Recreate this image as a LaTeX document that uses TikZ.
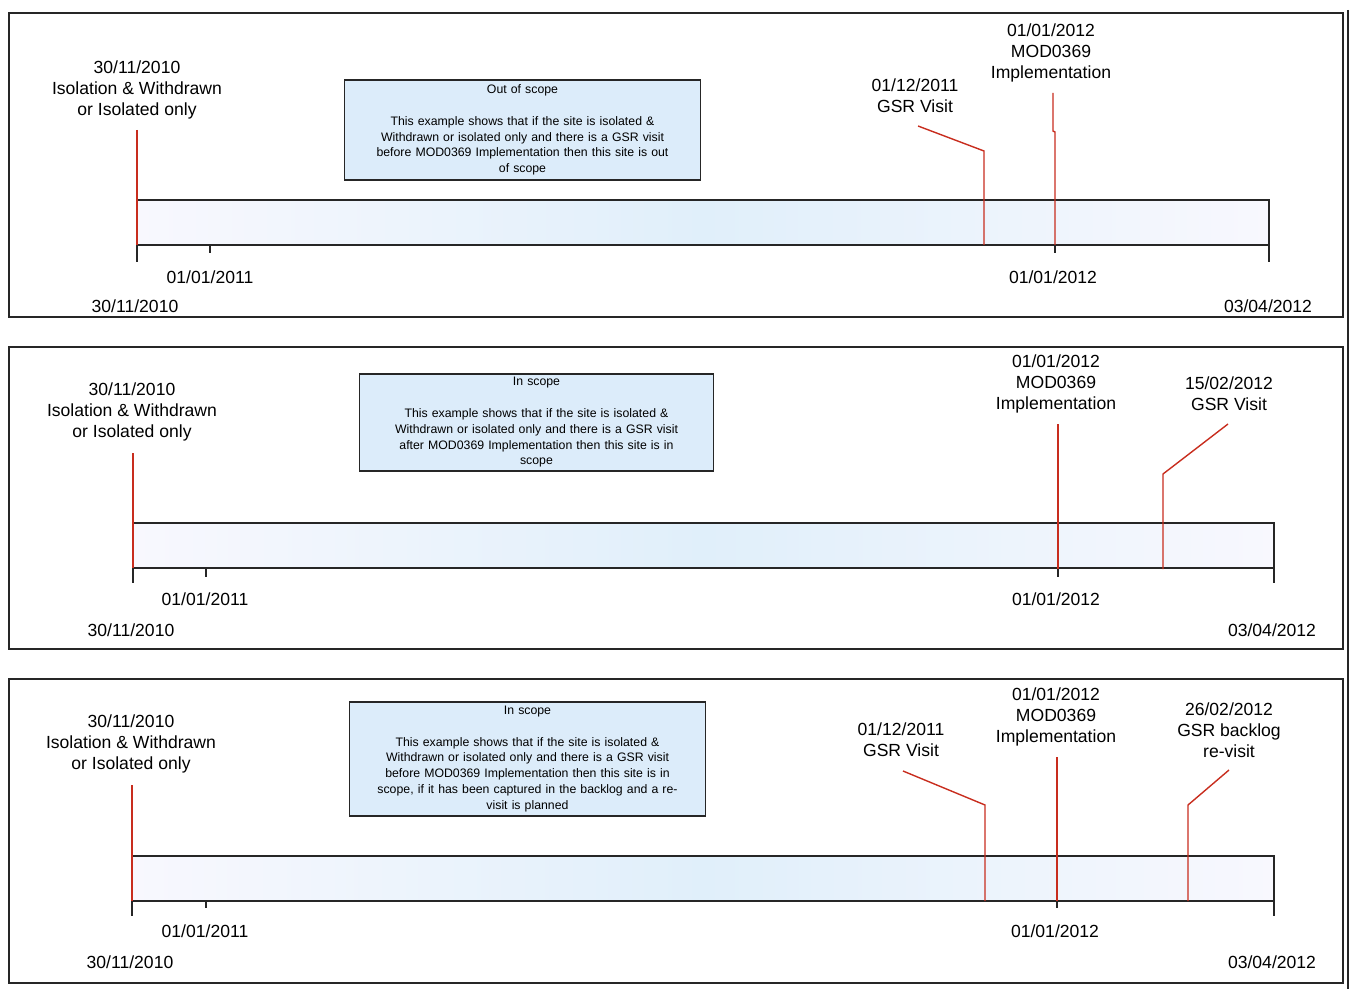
\documentclass[tikz,border=0pt]{standalone}
\usepackage{fontspec}
\setmainfont{Liberation Sans}
\usepackage{tikz}
\usetikzlibrary{positioning,calc}
\definecolor{markred}{RGB}{200,45,30}
\definecolor{notefill}{RGB}{220,236,250}
\definecolor{barmid}{RGB}{224,239,250}
\definecolor{barend}{RGB}{248,248,254}
\tikzset{frame/.style={draw=black!85, line width=1pt},
	barline/.style={draw=black!85, line width=0.8pt},
	barfill/.style={left color=barend, right color=barend, middle color=barmid},
	tick/.style={draw=black!85, line width=0.8pt},
	marker/.style={draw=markred, line width=0.8pt},
	lbl/.style={font=\fontsize{10}{12}\selectfont, align=center, inner sep=0pt},
	note/.style={draw=black!85, line width=0.8pt, fill=notefill, align=center,
		inner sep=2pt, font=\fontsize{7}{9}\selectfont}}
\newcommand{\timeBar}[4]{% name, left x, right x, top y
	\shade[barfill] (#2,#4) rectangle (#3,#4+45);
	\draw[barline] (#2,#4) -- (#3,#4) -- (#3,#4+45) -- (#2,#4+45);
	\coordinate (#1l) at (#2,#4+45);
	\coordinate (#1r) at (#3,#4+45);}

\begin{document}
\begin{tikzpicture}[x=0.02cm, y=-0.02cm]
	\useasboundingbox (0,0) rectangle (1351,989);
	\draw[frame] (1348,10) -- (1348,989);

	% first example: out of scope
	\draw[frame] (9,13) rectangle (1343,317);
	\timeBar{a}{137}{1269}{200}
	\draw[tick] (al) -- ++(0,17); \draw[tick] (210,245) -- (210,253);
	\draw[tick] (1055,245) -- (1055,253); \draw[tick] (ar) -- ++(0,17);
	\node[lbl] (a2011) at (210,277) {01/01/2011};
	\node[lbl] (a2010) at (135,306) {30/11/2010};
	\node[lbl] (a2012) at (1053,277) {01/01/2012};
	\node[lbl] (aend) at (1268,306) {03/04/2012};
	\node[lbl] (aiso) at (137,90) {30/11/2010\\Isolation \& Withdrawn\\or Isolated only};
	\node[lbl] (agsr) at (915,96) {01/12/2011\\GSR Visit};
	\node[lbl] (amod) at (1051,53) {01/01/2012\\MOD0369\\Implementation};
	\coordinate (aisot) at (137,130);
	\coordinate (agsrt) at (918,126); \coordinate (agsrb) at (984,245);
	\coordinate (amodt) at (1053,93); \coordinate (amodb) at (1055,245);
	\draw[marker] (aisot) -- (al);
	\draw[marker] (agsrt) -- (984,151) -- (agsrb);
	\draw[marker] (amodt) -- (1053,131) -- (1055,132) -- (amodb);
	\node[note, text width=6.98cm, minimum height=2cm] (anote) at (522.5,130)
		{Out of scope\\[9pt]This example shows that if the site is isolated \&\\
		Withdrawn or isolated only and there is a GSR visit\\
		before MOD0369 Implementation then this site is out\\of scope};

	% second example: in scope, visit after
	\draw[frame] (9,347) rectangle (1343,649);
	\timeBar{b}{133}{1274}{523}
	\draw[tick] (bl) -- ++(0,15); \draw[tick] (206,569) -- (206,577);
	\draw[tick] (1058,569) -- (1058,577); \draw[tick] (br) -- ++(0,15);
	\node[lbl] (b2011) at (205,599) {01/01/2011};
	\node[lbl] (b2010) at (131,630) {30/11/2010};
	\node[lbl] (b2012) at (1056,599) {01/01/2012};
	\node[lbl] (bend) at (1272,630) {03/04/2012};
	\node[lbl] (biso) at (132,412) {30/11/2010\\Isolation \& Withdrawn\\or Isolated only};
	\node[lbl] (bmod) at (1056,384) {01/01/2012\\MOD0369\\Implementation};
	\node[lbl] (bgsr) at (1229,394) {15/02/2012\\GSR Visit};
	\coordinate (bisot) at (133,453);
	\coordinate (bmodt) at (1058,424); \coordinate (bmodb) at (1058,569);
	\coordinate (bgsrt) at (1228,424); \coordinate (bgsrb) at (1163,569);
	\draw[marker] (bisot) -- (bl);
	\draw[marker] (bmodt) -- (bmodb);
	\draw[marker] (bgsrt) -- (1163,474) -- (bgsrb);
	\node[note, text width=6.94cm, minimum height=1.94cm] (bnote) at (536.5,422.5)
		{In scope\\[9pt]This example shows that if the site is isolated \&\\
		Withdrawn or isolated only and there is a GSR visit\\
		after MOD0369 Implementation then this site is in\\scope};

	% third example: in scope, backlog re-visit
	\draw[frame] (9,679) rectangle (1343,983);
	\timeBar{c}{132}{1274}{856}
	\draw[tick] (cl) -- ++(0,15); \draw[tick] (206,901) -- (206,908);
	\draw[tick] (1057,901) -- (1057,908); \draw[tick] (cr) -- ++(0,15);
	\node[lbl] (c2011) at (205,931) {01/01/2011};
	\node[lbl] (c2010) at (130,962) {30/11/2010};
	\node[lbl] (c2012) at (1055,931) {01/01/2012};
	\node[lbl] (cend) at (1272,962) {03/04/2012};
	\node[lbl] (ciso) at (131,744) {30/11/2010\\Isolation \& Withdrawn\\or Isolated only};
	\node[lbl] (cgsr) at (901,740) {01/12/2011\\GSR Visit};
	\node[lbl] (cmod) at (1056,717) {01/01/2012\\MOD0369\\Implementation};
	\node[lbl] (cback) at (1229,730) {26/02/2012\\GSR backlog\\re-visit};
	\coordinate (cisot) at (132,785);
	\coordinate (cgsrt) at (903,771); \coordinate (cgsrb) at (985,901);
	\coordinate (cmodt) at (1057,757); \coordinate (cmodb) at (1057,901);
	\coordinate (cbackt) at (1229,770); \coordinate (cbackb) at (1188,901);
	\draw[marker] (cisot) -- (cl);
	\draw[marker] (cgsrt) -- (985,805) -- (cgsrb);
	\draw[marker] (cmodt) -- (cmodb);
	\draw[marker] (cbackt) -- (1188,805) -- (cbackb);
	\node[note, text width=6.98cm, minimum height=2.28cm] (cnote) at (527.5,759)
		{In scope\\[9pt]This example shows that if the site is isolated \&\\
		Withdrawn or isolated only and there is a GSR visit\\
		before MOD0369 Implementation then this site is in\\
		scope, if it has been captured in the backlog and a re-\\visit is planned};
\end{tikzpicture}
\end{document}
